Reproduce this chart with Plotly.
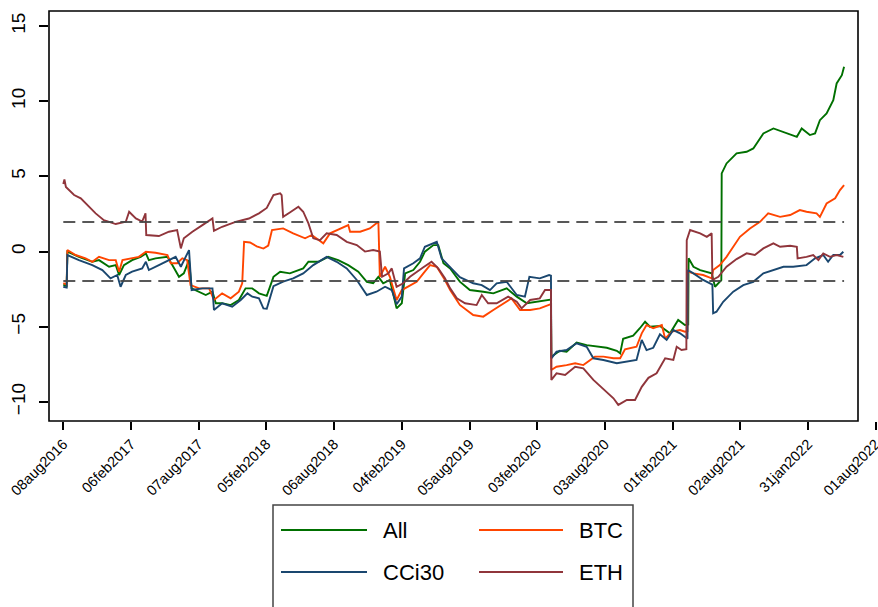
import pandas as pd
import plotly.graph_objects as go

BASE = pd.Timestamp("2016-08-08")

# ---- data: day offsets from 08aug2016 and values ----
all_days = [0, 9, 11, 42, 78, 96, 123, 141, 150, 163, 185, 208, 222, 230, 248, 280, 293, 311, 324, 338,
            345, 365, 383, 401, 410, 427, 450, 472, 490, 508, 526, 547, 565, 583, 609, 645, 659, 686, 712, 739,
            766, 793, 816, 833, 847, 860, 878, 896, 910, 919, 941, 959, 972, 995, 1008, 1022, 1040, 1066, 1093, 1129,
            1156, 1192, 1219, 1246, 1273, 1306, 1311, 1312, 1335, 1353, 1380, 1407, 1434, 1461, 1488, 1497, 1505, 1532, 1550, 1564,
            1577, 1604, 1631, 1653, 1671, 1680, 1681, 1694, 1712, 1743, 1752, 1765, 1769, 1770, 1783, 1810, 1837, 1855, 1882, 1909,
            1936, 1972, 1985, 2007, 2021, 2034, 2052, 2070, 2079, 2093, 2099]
all_vals = [-2.2, -2.3, -0.01, -0.35, -0.68, -0.57, -1.01, -0.9, -1.56, -0.9, -0.57, -0.35, -0.12, -0.57, -0.45, -0.35, -0.9, -1.68, -1.45, -0.57,
            -2.45, -2.67, -2.89, -2.67, -3.44, -3.44, -3.56, -3.22, -2.45, -2.45, -2.78, -2.95, -1.68, -1.34, -1.45, -1.12, -0.68, -0.68, -0.35, -0.57,
            -0.9, -1.34, -2.01, -2.11, -1.68, -2.11, -1.89, -3.78, -3.44, -1.45, -1.23, -0.68, -0.01, 0.43, 0.43, -0.78, -1.12, -2.0, -2.56, -2.67,
            -2.78, -2.45, -3.0, -3.44, -3.34, -3.22, -3.2, -7.0, -6.6, -6.66, -6.05, -6.22, -6.33, -6.4, -6.6, -6.77, -5.8, -5.6, -5.1, -4.67,
            -5.0, -4.95, -5.44, -4.55, -4.89, -4.85, -0.45, -1.01, -1.23, -1.45, -2.34, -2.01, -1.9, 5.2, 5.86, 6.53, 6.64, 6.86, 7.86, 8.19,
            7.97, 7.63, 8.19, 7.75, 7.86, 8.74, 9.19, 10.07, 11.18, 11.73, 12.29]

btc_days = [0, 9, 11, 33, 60, 78, 96, 123, 141, 150, 159, 185, 203, 222, 248, 280, 289, 306, 320, 333,
            342, 365, 392, 405, 427, 450, 472, 481, 486, 502, 520, 538, 551, 561, 591, 618, 650, 668, 699, 717,
            744, 766, 771, 798, 824, 847, 851, 865, 878, 896, 910, 927, 950, 968, 986, 1004, 1026, 1040, 1066, 1102,
            1129, 1156, 1183, 1205, 1228, 1255, 1281, 1306, 1311, 1312, 1326, 1353, 1376, 1398, 1416, 1429, 1452, 1479, 1497, 1510,
            1541, 1555, 1568, 1586, 1609, 1618, 1636, 1658, 1671, 1678, 1679, 1694, 1720, 1743, 1747, 1765, 1783, 1801, 1819, 1846,
            1873, 1895, 1927, 1954, 1980, 1998, 2025, 2034, 2052, 2075, 2088, 2099]
btc_vals = [-2.1, -2.2, 0.1, -0.23, -0.45, -0.68, -0.35, -0.57, -0.57, -1.34, -0.57, -0.45, -0.35, -0.01, -0.08, -0.23, -0.78, -0.78, -0.45, -0.57,
            -2.23, -2.45, -2.45, -3.22, -2.78, -3.11, -2.67, -2.11, 0.65, 0.6, 0.35, 0.2, 0.4, 1.43, 1.54, 1.21, 0.88, 1.1, 0.55, 1.21,
            1.54, 1.76, 1.32, 1.32, 1.54, 1.98, -1.68, -1.01, -1.68, -3.22, -2.56, -2.34, -2.01, -1.45, -0.9, -1.01, -1.89, -2.56, -3.55, -4.22,
            -4.33, -3.89, -3.44, -3.11, -3.89, -3.89, -3.78, -3.56, -3.5, -7.88, -7.66, -7.55, -7.43, -7.55, -7.21, -6.99, -6.99, -7.1, -7.1, -6.5,
            -6.33, -5.44, -4.89, -5.1, -4.89, -5.8, -5.33, -5.22, -5.33, -5.3, -1.34, -1.45, -1.56, -1.78, -1.23, -0.9, -0.35, 0.32, 0.98, 1.54,
            1.98, 2.54, 2.31, 2.43, 2.76, 2.65, 2.54, 2.31, 3.2, 3.54, 4.09, 4.42]

cci_days = [0, 9, 11, 42, 78, 105, 127, 145, 154, 168, 185, 212, 222, 230, 257, 284, 302, 316, 338, 345,
            374, 401, 405, 427, 454, 477, 495, 508, 526, 538, 547, 565, 591, 618, 645, 672, 708, 735, 762, 789,
            816, 842, 865, 883, 896, 910, 916, 941, 959, 972, 1004, 1017, 1040, 1066, 1102, 1125, 1147, 1165, 1192, 1219,
            1241, 1253, 1281, 1306, 1311, 1312, 1326, 1353, 1380, 1407, 1425, 1452, 1488, 1515, 1541, 1555, 1568, 1586, 1604, 1622,
            1640, 1658, 1674, 1678, 1679, 1694, 1720, 1738, 1745, 1747, 1756, 1774, 1801, 1828, 1855, 1882, 1909, 1936, 1962, 1998,
            2021, 2043, 2056, 2070, 2088, 2097]
cci_vals = [-2.34, -2.4, -0.23, -0.57, -0.9, -1.23, -1.78, -1.56, -2.34, -1.56, -1.34, -1.12, -0.68, -1.23, -0.9, -0.57, -0.35, -1.01, 0.1, -2.56,
            -2.45, -2.45, -3.89, -3.44, -3.67, -3.22, -2.78, -3.0, -3.11, -3.78, -3.8, -2.3, -2.0, -1.78, -1.45, -0.9, -0.35, -0.68, -1.12, -1.89,
            -2.89, -2.67, -2.34, -2.56, -3.5, -3.0, -1.12, -0.78, -0.45, 0.32, 0.65, -0.45, -1.07, -1.7, -2.11, -2.23, -2.56, -2.11, -2.01, -2.89,
            -3.0, -1.68, -1.78, -1.56, -1.6, -7.1, -6.66, -6.55, -6.1, -6.33, -7.1, -7.21, -7.43, -7.33, -7.21, -5.88, -6.55, -6.4, -5.5, -5.88,
            -5.22, -5.44, -5.77, -5.8, -1.23, -1.45, -1.89, -2.11, -2.2, -4.11, -4.0, -3.34, -2.67, -2.23, -2.01, -1.45, -1.23, -1.01, -1.01, -0.9,
            -0.45, -0.23, -0.68, -0.23, -0.23, -0.01]

eth_days = [0, 3, 7, 11, 29, 47, 69, 87, 109, 141, 168, 177, 195, 212, 221, 223, 257, 284, 306, 316,
            324, 347, 374, 401, 405, 427, 463, 499, 526, 547, 565, 583, 587, 591, 609, 632, 645, 659, 672, 690,
            708, 735, 762, 789, 811, 833, 851, 857, 874, 883, 896, 914, 932, 950, 968, 990, 1008, 1026, 1040, 1058,
            1080, 1111, 1125, 1142, 1165, 1196, 1219, 1232, 1255, 1281, 1295, 1311, 1312, 1326, 1349, 1376, 1398, 1425, 1452, 1479,
            1492, 1515, 1537, 1555, 1573, 1595, 1618, 1640, 1649, 1662, 1675, 1676, 1685, 1712, 1730, 1743, 1745, 1761, 1783, 1810,
            1837, 1859, 1882, 1909, 1927, 1954, 1972, 1974, 1998, 2016, 2030, 2043, 2061, 2079, 2097]
eth_vals = [4.5, 4.8, 4.3, 4.2, 3.76, 3.54, 2.98, 2.54, 2.09, 1.83, 1.98, 2.65, 2.2, 2.0, 2.54, 1.1, 1.03, 1.32, 1.43, 0.21,
            0.88, 1.32, 1.76, 2.2, 1.38, 1.65, 1.98, 2.2, 2.54, 2.9, 3.76, 3.87, 3.76, 2.31, 2.6, 2.98, 2.65, 1.87, 0.88, 0.76,
            1.21, 1.1, 0.65, 0.43, 0.0, 0.1, 0.0, -1.68, -1.45, -1.12, -2.34, -2.11, -1.68, -1.34, -1.05, -0.68, -1.12, -1.78, -2.45, -3.11,
            -3.44, -3.56, -2.89, -3.44, -3.44, -3.0, -3.34, -3.78, -3.22, -3.11, -2.56, -2.56, -8.54, -8.1, -8.21, -7.66, -7.77, -8.54, -9.15, -9.76,
            -10.2, -9.87, -9.87, -9.0, -8.4, -8.1, -7.1, -7.2, -6.33, -6.55, -6.5, 0.76, 1.43, 1.21, 0.98, 1.21, -1.89, -1.68, -1.01, -0.5,
            -0.12, -0.23, 0.21, 0.55, 0.32, 0.39, 0.32, -0.45, -0.35, -0.23, -0.57, -0.12, -0.35, -0.23, -0.35]

crit_value = 1.96

tick_dates = ["2016-08-08", "2017-02-06", "2017-08-07", "2018-02-05", "2018-08-06", "2019-02-04", "2019-08-05",
              "2020-02-03", "2020-08-03", "2021-02-01", "2021-08-02", "2022-01-31", "2022-08-01"]
tick_text = ["08aug2016", "06feb2017", "07aug2017", "05feb2018", "06aug2018", "04feb2019", "05aug2019",
             "03feb2020", "03aug2020", "01feb2021", "02aug2021", "31jan2022", "01aug2022"]
y_ticks = [-10, -5, 0, 5, 10, 15]

series_names = ["All", "BTC", "CCi30", "ETH"]
series_colors = ["rgb(0,112,0)", "rgb(255,69,0)", "rgb(26,71,111)", "rgb(144,53,59)"]


def to_dates(days):
    return BASE + pd.to_timedelta(days, unit="D")


# ---- layout geometry (pixels) ----
W, H = 878, 607
PL, PT = 49, 11              # plot area left / top
PW, PH = W - PL, 410         # plot area width / height
FRAME_R = 858                # right edge of the frame
PX_PER_DAY = 67.7 / 182.0
FIRST_TICK_PX = 63.3


def px_x(px):
    return (px - PL) / PW


def px_y(py):
    return (PT + PH - py) / PH


x_left = BASE + pd.Timedelta(days=(PL - FIRST_TICK_PX) / PX_PER_DAY)
x_right = BASE + pd.Timedelta(days=(PL + PW - FIRST_TICK_PX) / PX_PER_DAY)

fig = go.Figure()
all_series = [(all_days, all_vals), (btc_days, btc_vals), (cci_days, cci_vals), (eth_days, eth_vals)]
for (d, v), name, col in zip(all_series, series_names, series_colors):
    fig.add_trace(go.Scatter(x=to_dates(d), y=v, mode="lines", name=name,
                             line=dict(color=col, width=1.9), showlegend=False, hoverinfo="skip"))

first_day = min(min(d) for d, _ in all_series)
last_day = max(max(d) for d, _ in all_series)
for c in (crit_value, -crit_value):
    fig.add_trace(go.Scatter(x=to_dates([first_day, last_day]), y=[c, c], mode="lines",
                             line=dict(color="rgba(70,70,70,0.9)", width=2, dash="12px,7px"),
                             showlegend=False, hoverinfo="skip"))

shapes = [dict(type="rect", xref="paper", yref="paper", x0=0, x1=px_x(FRAME_R), y0=0, y1=1,
               line=dict(color="black", width=1.6), fillcolor="rgba(0,0,0,0)", layer="above")]
# legend box
shapes.append(dict(type="rect", xref="paper", yref="paper", x0=px_x(273), x1=px_x(633),
                   y0=px_y(650), y1=px_y(505), line=dict(color="#444", width=1.5),
                   fillcolor="white", layer="below"))
annotations = []
legend_pos = [(281, 367, 381, 530), (479, 563, 577, 530), (281, 367, 381, 572), (479, 563, 577, 572)]
for (x0, x1, tx, yy), name, col in zip(legend_pos, series_names, series_colors):
    shapes.append(dict(type="line", xref="paper", yref="paper", x0=px_x(x0), x1=px_x(x1),
                       y0=px_y(yy), y1=px_y(yy), line=dict(color=col, width=2)))
    annotations.append(dict(xref="paper", yref="paper", x=px_x(tx), y=px_y(yy), text=name,
                            showarrow=False, xanchor="left", yanchor="middle",
                            font=dict(size=22, color="black", family="Liberation Sans, Arial")))

fig.update_layout(
    width=W, height=H,
    margin=dict(l=PL, r=W - PL - PW, t=PT, b=H - PT - PH, pad=0, autoexpand=False),
    plot_bgcolor="white", paper_bgcolor="white",
    font=dict(family="Liberation Sans, Arial", color="black"),
    showlegend=False,
    shapes=shapes, annotations=annotations,
    xaxis=dict(type="date", range=[x_left, x_right], tickvals=tick_dates, ticktext=tick_text,
               tickangle=-45, ticks="outside", ticklen=8, tickwidth=1.5, tickcolor="black",
               showgrid=False, zeroline=False, showline=False, automargin=False,
               ticklabeloverflow="allow",
               tickfont=dict(size=14.5, family="Liberation Sans, Arial", color="black")),
    yaxis=dict(range=[-11.27, 16.0], tickvals=y_ticks, tickangle=-90, ticks="outside",
               ticklen=9, tickwidth=1.5, tickcolor="black", showgrid=False, zeroline=False,
               showline=False, ticklabelstandoff=6, automargin=False,
               tickfont=dict(size=19, family="Liberation Sans, Arial", color="black")),
)

fig.write_html("out.html", config={"displayModeBar": False},
               post_script="document.body.style.margin='0';document.body.style.overflow='hidden';")
